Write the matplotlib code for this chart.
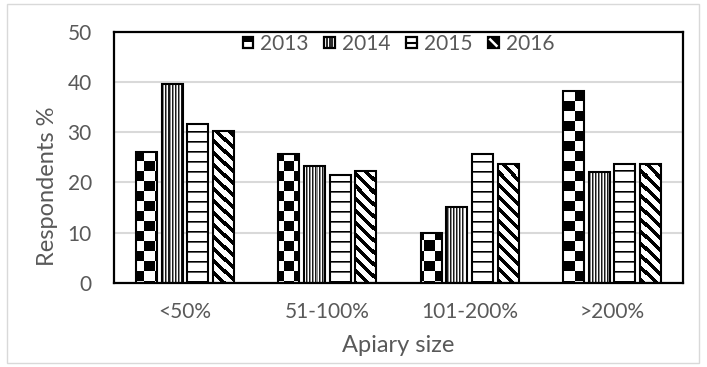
import numpy as np
import matplotlib
matplotlib.use("Agg")
import matplotlib.pyplot as plt
from matplotlib.patches import Rectangle, Patch
from matplotlib.lines import Line2D
from matplotlib.legend_handler import HandlerBase

# ---- data ----
categories = ["<50%", "51-100%", "101-200%", ">200%"]
years = ["2013", "2014", "2015", "2016"]
v2013 = [26.1, 25.6, 10.0, 38.1]
v2014 = [39.6, 23.3, 15.2, 22.1]
v2015 = [31.7, 21.4, 25.6, 23.7]
v2016 = [30.3, 22.3, 23.7, 23.7]
y_ticks = [0, 10, 20, 30, 40, 50]

series = [v2013, v2014, v2015, v2016]
kinds = ["checker", "vlines", "hlines", "diag"]

plt.rcParams["font.family"] = ["Lato", "DejaVu Sans"]
TXT = "#595959"

FW, FH, DPI = 707, 367, 100
fig = plt.figure(figsize=(FW / DPI, FH / DPI), dpi=DPI)
ax_l, ax_r, ax_t, ax_b = 114, 683, 31.5, 283
ax = fig.add_axes([ax_l / FW, (FH - ax_b) / FH, (ax_r - ax_l) / FW, (ax_b - ax_t) / FH])

xmin, xmax, ymin, ymax = -0.5, len(categories) - 0.5, 0, 50
ax.set_xlim(xmin, xmax)
ax.set_ylim(ymin, ymax)


def pattern(kind, w, h):
    """Pixel pattern fills: 0 = black, 1 = white."""
    yy, xx = np.mgrid[0:h, 0:w]
    if kind == "checker":
        return (((xx // 10) + (yy // 10)) % 2).astype(float)
    if kind == "vlines":
        lut = np.array([0.1, 0.55, 1.0])
        return lut[xx % 3]
    if kind == "hlines":
        lut = np.array([0.0, 0.35, 1, 1, 1, 1, 1, 1, 1, 1])
        return lut[yy % 10]
    if kind == "diag":
        d = (xx - yy) % 12
        return np.where(d < 5, 0.0, 1.0)
    return np.ones((h, w))


pw, ph = int(ax_r - ax_l), int(round(ax_b - ax_t))
x = np.arange(len(categories))
step, bw = 0.18, 0.148

for i, (vals, kind) in enumerate(zip(series, kinds)):
    bars = ax.bar(x + (i - 1.5) * step, vals, width=bw, facecolor="none",
                  edgecolor="black", linewidth=1.5, zorder=3)
    img = pattern(kind, pw, ph)
    for p in bars.patches:
        im = ax.imshow(img, extent=(xmin, xmax, ymin, ymax), aspect="auto",
                       cmap="gray", vmin=0, vmax=1, interpolation="nearest",
                       zorder=2.5)
        im.set_clip_path(p)

ax.set_xlim(xmin, xmax)
ax.set_ylim(ymin, ymax)

# axes styling
ax.set_yticks(y_ticks)
ax.set_xticks(x)
ax.set_xticklabels(categories)
ax.tick_params(axis="both", length=0, labelsize=15, labelcolor=TXT)
ax.tick_params(axis="y", pad=16)
ax.tick_params(axis="x", pad=14)
ax.yaxis.grid(True, color="#d9d9d9", linewidth=1.5)
ax.set_axisbelow(True)
for s in ax.spines.values():
    s.set_linewidth(1.6)
    s.set_color("black")

fig.text(47 / FW, 1 - 186 / FH, "Respondents %", rotation=90, ha="center",
         va="center", fontsize=17, color=TXT)
fig.text(398 / FW, 1 - 345 / FH, "Apiary size", ha="center", va="center",
         fontsize=17, color=TXT)


class IconHandler(HandlerBase):
    def __init__(self, kind):
        super().__init__()
        self.kind = kind

    def create_artists(self, legend, orig_handle, xdescent, ydescent, width,
                       height, fontsize, trans):
        s = min(width, height)
        x0 = -xdescent + (width - s) / 2
        y0 = -ydescent + (height - s) / 2
        arts = []
        face = "black" if self.kind == "diag" else "white"
        arts.append(Rectangle((x0, y0), s, s, facecolor=face, edgecolor="black",
                              linewidth=1.6, transform=trans))
        if self.kind == "checker":
            arts.append(Rectangle((x0, y0 + 0.6 * s), s, 0.4 * s,
                                  facecolor="black", edgecolor="none",
                                  transform=trans))
        elif self.kind == "vlines":
            for f in (0.28, 0.5, 0.72):
                arts.append(Line2D([x0 + f * s] * 2, [y0, y0 + s], color="black",
                                   linewidth=1.2, transform=trans))
        elif self.kind == "hlines":
            arts.append(Line2D([x0, x0 + s], [y0 + s / 2] * 2, color="black",
                               linewidth=1.5, transform=trans))
        elif self.kind == "diag":
            arts.append(Line2D([x0 + 0.2 * s, x0 + 0.8 * s],
                               [y0 + 0.8 * s, y0 + 0.2 * s], color="white",
                               linewidth=1.8, transform=trans))
        return arts


handles = [Patch(facecolor="white", edgecolor="black", label=y) for y in years]
leg = ax.legend(handles=handles, labels=years, ncol=4, loc="center",
                bbox_to_anchor=(0.5, 1 - 12.5 / (ax_b - ax_t)), frameon=False,
                fontsize=15, labelcolor=TXT, handlelength=0.5, handleheight=0.5,
                handletextpad=0.35, columnspacing=0.75, borderpad=0,
                handler_map={h: IconHandler(k) for h, k in zip(handles, kinds)})

# outer light border around the chart
fig.patches.append(Rectangle((7 / FW, 4 / FH), 692 / FW, 359 / FH,
                             transform=fig.transFigure, fill=False,
                             edgecolor="#d9d9d9", linewidth=1.0))

fig.savefig("out.png", dpi=DPI)
